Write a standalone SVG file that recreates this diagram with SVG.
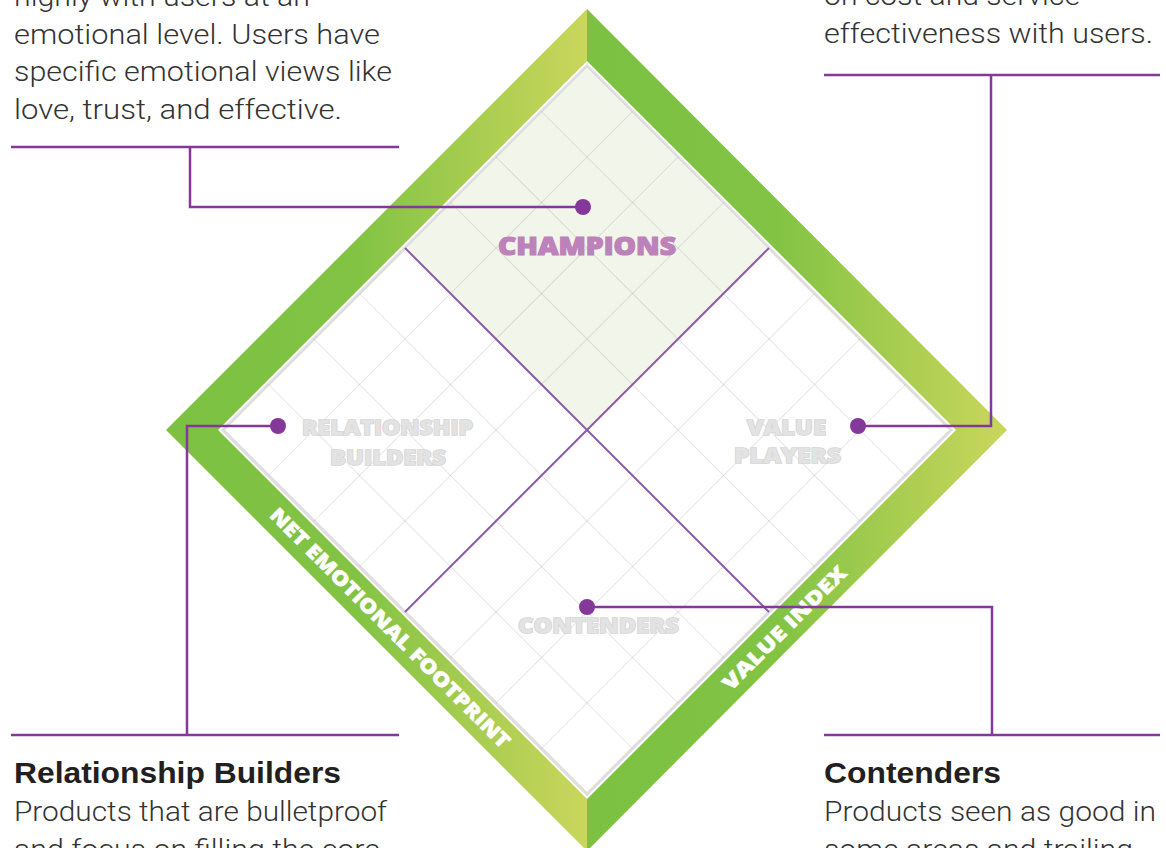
<svg xmlns="http://www.w3.org/2000/svg" width="1166" height="848" viewBox="0 0 1166 848">
<defs>
<linearGradient id="gL" gradientUnits="userSpaceOnUse" x1="166" y1="0" x2="587" y2="0">
<stop offset="0" stop-color="#7cc142"/><stop offset="0.45" stop-color="#82c344"/><stop offset="1" stop-color="#cad65c"/>
</linearGradient>
<linearGradient id="gR" gradientUnits="userSpaceOnUse" x1="587" y1="0" x2="1007" y2="0">
<stop offset="0" stop-color="#7cc142"/><stop offset="0.45" stop-color="#82c344"/><stop offset="1" stop-color="#cad65c"/>
</linearGradient>
<style>
.body{font-family:Roboto,"Liberation Sans",Arial,sans-serif;font-weight:300;font-size:28px;fill:#333}
.head{font-family:"Liberation Sans",Arial,sans-serif;font-weight:700;font-size:30px;fill:#231f20}
.q{font-family:"Open Sans","Liberation Sans",sans-serif;font-weight:800;text-anchor:middle;font-size:21px;fill:#e3e3e3;stroke:#d6d6d6;stroke-width:1.6;paint-order:stroke}
.champ{font-family:"Open Sans","Liberation Sans",sans-serif;font-weight:800;text-anchor:middle;font-size:25px;fill:#bc82b9;stroke:#bc82b9;stroke-width:1.2}
.axis{font-family:"Open Sans","Liberation Sans",sans-serif;font-weight:800;font-size:20px;fill:#fff;stroke:#fff;stroke-width:0.5;text-anchor:middle}
.lead{fill:none;stroke:#84399a;stroke-width:2.5}
.dot{fill:#84399a}
.grid{stroke:#000;stroke-opacity:0.1;stroke-width:1}
.div{stroke:#8d5ca8;stroke-width:2}
</style>
</defs>
<rect width="1166" height="848" fill="#fff"/>

<g id="frame">
<polygon points="587,9 166,430 587,851" fill="url(#gL)"/>
<polygon points="587,9 1007,430 587,851" fill="url(#gR)"/>
<polygon points="587,61 218,430 587,799 956,430" fill="#fff"/>
<g transform="translate(587,430) rotate(45)">
<rect x="-257.4" y="-257.4" width="514.8" height="514.8" fill="#fff" stroke="#dedede" stroke-width="3"/>
<rect id="champions-fill" x="-256" y="-256" width="256" height="256" fill="#f2f6ea"/>
<g class="grid">
<line x1="-193.05" y1="-257.4" x2="-193.05" y2="257.4"/>
<line x1="-128.7" y1="-257.4" x2="-128.7" y2="257.4"/>
<line x1="-64.35" y1="-257.4" x2="-64.35" y2="257.4"/>
<line x1="64.35" y1="-257.4" x2="64.35" y2="257.4"/>
<line x1="128.7" y1="-257.4" x2="128.7" y2="257.4"/>
<line x1="193.05" y1="-257.4" x2="193.05" y2="257.4"/>
<line y1="-193.05" x1="-257.4" y2="-193.05" x2="257.4"/>
<line y1="-128.7" x1="-257.4" y2="-128.7" x2="257.4"/>
<line y1="-64.35" x1="-257.4" y2="-64.35" x2="257.4"/>
<line y1="64.35" x1="-257.4" y2="64.35" x2="257.4"/>
<line y1="128.7" x1="-257.4" y2="128.7" x2="257.4"/>
<line y1="193.05" x1="-257.4" y2="193.05" x2="257.4"/>
</g>
<line class="div" x1="0" y1="-257.4" x2="0" y2="257.4"/>
<line class="div" x1="-257.4" y1="0" x2="257.4" y2="0"/>
</g>
<text class="axis" transform="translate(390,628) rotate(45)" x="0" y="7" textLength="330" lengthAdjust="spacingAndGlyphs">NET EMOTIONAL FOOTPRINT</text>
<text class="axis" transform="translate(784.5,628) rotate(-45)" x="0" y="7" textLength="166" lengthAdjust="spacingAndGlyphs">VALUE INDEX</text>
</g>

<g id="champions">
<text class="champ" x="587" y="255" textLength="178" lengthAdjust="spacingAndGlyphs">CHAMPIONS</text>
</g>
<g id="relationship-builders">
<text class="q" x="387.5" y="435" textLength="171" lengthAdjust="spacingAndGlyphs">RELATIONSHIP</text>
<text class="q" x="388" y="465" textLength="116" lengthAdjust="spacingAndGlyphs">BUILDERS</text>
</g>
<g id="value-players">
<text class="q" x="786.5" y="435" textLength="79" lengthAdjust="spacingAndGlyphs">VALUE</text>
<text class="q" x="787.5" y="463" textLength="107" lengthAdjust="spacingAndGlyphs">PLAYERS</text>
</g>
<g id="contenders">
<text class="q" x="598.5" y="633" textLength="161" lengthAdjust="spacingAndGlyphs">CONTENDERS</text>
</g>

<g id="text-champions">
<text class="body" x="14" y="6" textLength="296" lengthAdjust="spacingAndGlyphs">highly with users at an</text>
<text class="body" x="14" y="43.5" textLength="366" lengthAdjust="spacingAndGlyphs">emotional level. Users have</text>
<text class="body" x="14" y="81" textLength="378" lengthAdjust="spacingAndGlyphs">specific emotional views like</text>
<text class="body" x="14" y="118.5" textLength="328" lengthAdjust="spacingAndGlyphs">love, trust, and effective.</text>
</g>
<g id="text-value-players">
<text class="body" x="824" y="5" textLength="256" lengthAdjust="spacingAndGlyphs">on cost and service</text>
<text class="body" x="824" y="42.5" textLength="329" lengthAdjust="spacingAndGlyphs">effectiveness with users.</text>
</g>
<g id="text-relationship-builders">
<text class="head" x="14" y="783" textLength="327" lengthAdjust="spacingAndGlyphs">Relationship Builders</text>
<text class="body" x="14" y="821" textLength="373" lengthAdjust="spacingAndGlyphs">Products that are bulletproof</text>
<text class="body" x="14" y="859" textLength="366" lengthAdjust="spacingAndGlyphs">and focus on filling the core</text>
</g>
<g id="text-contenders">
<text class="head" x="824" y="783" textLength="177" lengthAdjust="spacingAndGlyphs">Contenders</text>
<text class="body" x="824" y="821" textLength="332" lengthAdjust="spacingAndGlyphs">Products seen as good in</text>
<text class="body" x="824" y="859" textLength="309" lengthAdjust="spacingAndGlyphs">some areas and trailing</text>
</g>

<g id="connectors">
<line class="lead" x1="11" y1="147" x2="399" y2="147"/>
<polyline class="lead" points="190,147 190,207 583,207"/>
<line class="lead" x1="824" y1="75" x2="1160" y2="75"/>
<polyline class="lead" points="991,75 991,426 858,426"/>
<line class="lead" x1="11" y1="735" x2="399" y2="735"/>
<polyline class="lead" points="278,426 187,426 187,735"/>
<line class="lead" x1="824" y1="735" x2="1160" y2="735"/>
<polyline class="lead" points="587,607 992,607 992,735"/>
<circle class="dot" cx="583" cy="207" r="8"/>
<circle class="dot" cx="278" cy="426" r="8"/>
<circle class="dot" cx="858" cy="426" r="8"/>
<circle class="dot" cx="587" cy="607" r="8"/>
</g>
</svg>
